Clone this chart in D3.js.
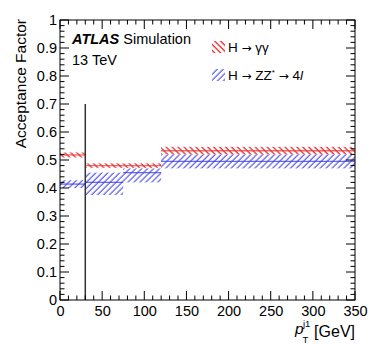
<!DOCTYPE html>
<html><head><meta charset="utf-8">
<script src="https://cdn.jsdelivr.net/npm/d3@7"></script>
<style>body{margin:0;background:#fff}svg{font-family:"Liberation Sans",Arial,sans-serif}</style>
</head><body>
<script>
const binEdges = [0, 30, 75, 120, 350];
const gammaValues = [0.518, 0.480, 0.480, 0.533];
const gammaLow = [0.509, 0.472, 0.472, 0.520];
const gammaHigh = [0.527, 0.488, 0.488, 0.547];
const zzValues = [0.414, 0.420, 0.455, 0.495];
const zzLow = [0.400, 0.375, 0.420, 0.470];
const zzHigh = [0.428, 0.455, 0.470, 0.520];
const yTicks = [0, 0.1, 0.2, 0.3, 0.4, 0.5, 0.6, 0.7, 0.8, 0.9, 1];
const xTicks = [0, 50, 100, 150, 200, 250, 300, 350];
const cutLine = {x: 30, top: 0.70};

const W = 374, H = 359;
const m = {l: 60, r: 355, t: 20, b: 300};
const svg = d3.select("body").append("svg").attr("width", W).attr("height", H);
const x = d3.scaleLinear().domain([0, 350]).range([m.l, m.r]);
const y = d3.scaleLinear().domain([0, 1]).range([m.b, m.t]);

const defs = svg.append("defs");
function hatch(id, color, angle, w) {
  const p = defs.append("pattern").attr("id", id).attr("patternUnits", "userSpaceOnUse")
    .attr("width", 4.2).attr("height", 4.2).attr("patternTransform", `rotate(${angle})`);
  p.append("line").attr("x1", 1).attr("y1", 0).attr("x2", 1).attr("y2", 4.2)
    .attr("stroke", color).attr("stroke-width", w);
}
hatch("hRed", "#e83a3a", -45, 1.4);
hatch("hBlue", "#4a4ae8", 45, 1.1);

function series(vals, lo, hi, fill, line) {
  const g = svg.append("g");
  const bins = vals.map((v, i) => ({x0: binEdges[i], x1: binEdges[i + 1], v, lo: lo[i], hi: hi[i]}));
  g.selectAll("rect").data(bins).join("rect")
    .attr("x", d => x(d.x0)).attr("width", d => x(d.x1) - x(d.x0))
    .attr("y", d => y(d.hi)).attr("height", d => y(d.lo) - y(d.hi))
    .attr("fill", `url(#${fill})`);
  g.selectAll("line").data(bins).join("line")
    .attr("x1", d => x(d.x0)).attr("x2", d => x(d.x1))
    .attr("y1", d => y(d.v)).attr("y2", d => y(d.v))
    .attr("stroke", line).attr("stroke-width", 1.3).attr("stroke-opacity", 0.75);
}
series(zzValues, zzLow, zzHigh, "hBlue", "#3a3ae8");
series(gammaValues, gammaLow, gammaHigh, "hRed", "#e83a3a");

svg.append("line").attr("x1", x(cutLine.x)).attr("x2", x(cutLine.x))
  .attr("y1", y(0)).attr("y2", y(cutLine.top)).attr("stroke", "#333").attr("stroke-width", 1.5);

// frame
svg.append("rect").attr("x", m.l).attr("y", m.t).attr("width", m.r - m.l).attr("height", m.b - m.t)
  .attr("fill", "none").attr("stroke", "#000").attr("stroke-width", 1);

// ticks
const tg = svg.append("g").attr("stroke", "#000").attr("stroke-width", 1);
const yMinor = d3.range(0, 1.0001, 0.02);
yMinor.forEach(v => {
  const major = Math.abs(v * 10 - Math.round(v * 10)) < 1e-6;
  const len = major ? 9 : 4.5;
  tg.append("line").attr("x1", m.l).attr("x2", m.l + len).attr("y1", y(v)).attr("y2", y(v));
  tg.append("line").attr("x1", m.r).attr("x2", m.r - len).attr("y1", y(v)).attr("y2", y(v));
});
const xMinor = d3.range(0, 350.001, 10);
xMinor.forEach(v => {
  const major = v % 50 === 0;
  const len = major ? 9 : 4.5;
  tg.append("line").attr("y1", m.b).attr("y2", m.b - len).attr("x1", x(v)).attr("x2", x(v));
  tg.append("line").attr("y1", m.t).attr("y2", m.t + len).attr("x1", x(v)).attr("x2", x(v));
});

const yAxis = svg.append("g").attr("transform", `translate(${m.l},0)`)
  .call(d3.axisLeft(y).tickValues(yTicks).tickSize(0).tickPadding(3).tickFormat(d => d3.format("~g")(d)));
yAxis.select(".domain").remove();
yAxis.selectAll("text").attr("font-size", 14.5).attr("font-family", "Liberation Sans, Arial, sans-serif").attr("fill", "#000");
const xAxis = svg.append("g").attr("transform", `translate(0,${m.b})`)
  .call(d3.axisBottom(x).tickValues(xTicks).tickSize(0).tickPadding(6));
xAxis.select(".domain").remove();
xAxis.selectAll("text").attr("font-size", 14.5).attr("font-family", "Liberation Sans, Arial, sans-serif").attr("fill", "#000");

// titles
svg.append("text").attr("transform", `translate(26,${m.t - 1}) rotate(-90)`).attr("text-anchor", "end")
  .attr("font-size", 15.5).text("Acceptance Factor");
svg.append("text").attr("x", 355).attr("y", 337).attr("text-anchor", "end").attr("font-size", 16).text("[GeV]");
svg.append("text").attr("x", 295).attr("y", 334).attr("font-size", 15.5).attr("font-style", "italic").text("p");
svg.append("text").attr("x", 302.5).attr("y", 343).attr("font-size", 9.5).text("T");
svg.append("text").attr("x", 303).attr("y", 327).attr("font-size", 9.5).text("j1");

const at = svg.append("text").attr("x", 72).attr("y", 44).attr("font-size", 14.5);
at.append("tspan").attr("font-weight", "bold").attr("font-style", "italic").text("ATLAS");
at.append("tspan").text(" Simulation");
svg.append("text").attr("x", 72).attr("y", 64.5).attr("font-size", 14.5).text("13 TeV");

// legend
const legend = [
  {fill: "hRed", label: "H", yc: 47},
  {fill: "hBlue", label: "H", yc: 75}
];
legend.forEach(d => {
  svg.append("rect").attr("x", 212).attr("y", d.yc - 6).attr("width", 13).attr("height", 12).attr("fill", `url(#${d.fill})`);
});
const arrowFont = "DejaVu Sans, sans-serif";
const l1 = svg.append("text").attr("x", 228).attr("y", 52).attr("font-size", 13.5);
l1.append("tspan").text("H ");
l1.append("tspan").attr("font-family", arrowFont).attr("font-size", 12).text("\u2192");
l1.append("tspan").text(" \u03b3\u03b3");
const l2 = svg.append("text").attr("x", 228).attr("y", 80).attr("font-size", 13.5);
l2.append("tspan").text("H ");
l2.append("tspan").attr("font-family", arrowFont).attr("font-size", 12).text("\u2192");
l2.append("tspan").text(" ZZ");
l2.append("tspan").attr("font-size", 8).attr("dy", -5).text("*");
l2.append("tspan").attr("dy", 5).text(" ");
l2.append("tspan").attr("font-family", arrowFont).attr("font-size", 12).text("\u2192");
l2.append("tspan").text(" 4");
l2.append("tspan").attr("font-style", "italic").text("l");
</script>
</body></html>
